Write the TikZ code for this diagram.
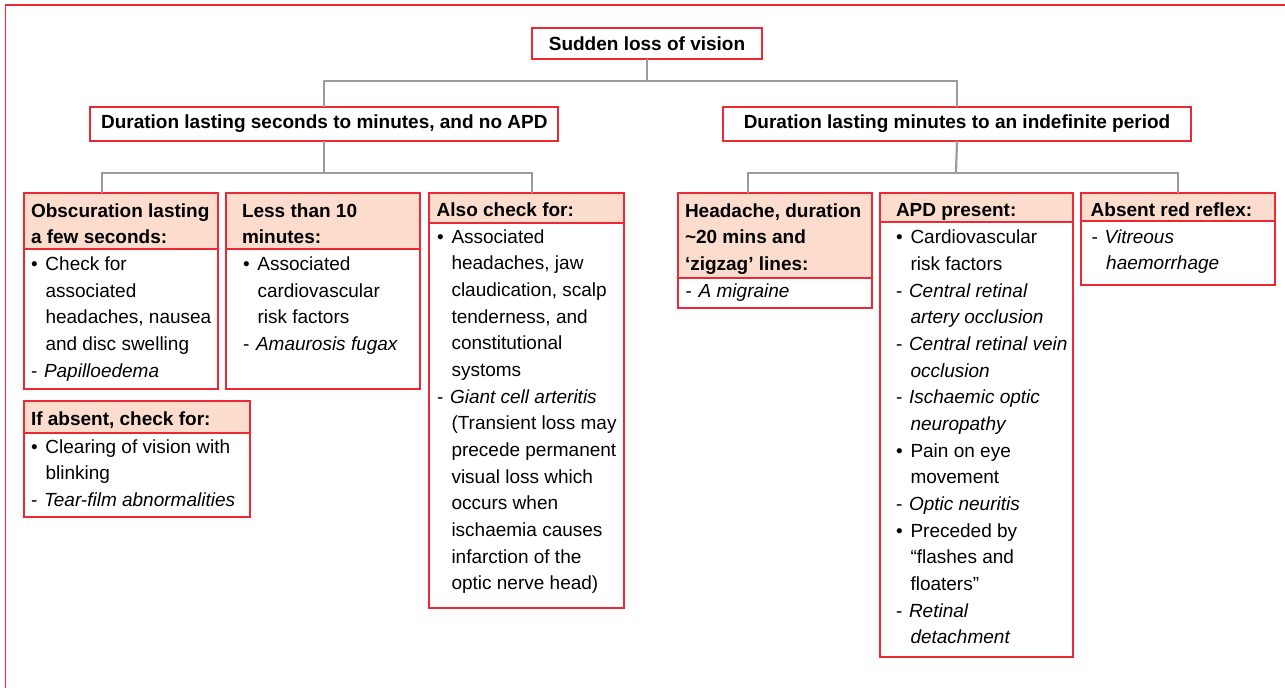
\documentclass[tikz,border=0pt]{standalone}
\usepackage{fontspec}
\setmainfont{Liberation Sans}
\definecolor{bred}{RGB}{236,40,52}
\definecolor{hfill}{RGB}{252,220,204}
\definecolor{cgray}{RGB}{155,155,155}
\newcommand\bul{\makebox[14.5pt][l]{•}}
\newcommand\dsh{\makebox[13pt][l]{-}}
\newcommand\ind{\hspace*{14.5pt}}
\begin{document}
\begin{tikzpicture}[x=1pt,y=-1pt,
  every node/.style={inner sep=0pt,outer sep=0pt},
  lvl/.style={draw=bred,line width=1.7pt,fill=white,rectangle,font=\fontsize{19}{26.65}\selectfont\bfseries},
  hdr/.style={draw=bred,line width=1.7pt,fill=hfill,rectangle,anchor=north west},
  bdy/.style={draw=bred,line width=1.7pt,fill=white,rectangle,anchor=north west},
  txt/.style={anchor=north west,align=left,font=\fontsize{19}{26.65}\selectfont},
  htxt/.style={anchor=north west,align=left,font=\fontsize{19}{26.65}\selectfont\bfseries},
  conn/.style={draw=cgray,line width=2.2pt},
  frame/.style={draw=bred,line width=1.6pt}]
\useasboundingbox (0,0) rectangle (1285,688);
\fill[white] (0,0) rectangle (1285,688);
% frame
\draw[frame] (1285,5) -- (5.5,5) -- (5.5,688);

% level 1 and 2
\node[lvl,minimum width=230.6pt,minimum height=30.4pt] (root) at (647,43.5) {Sudden loss of vision};
\node[lvl,minimum width=468pt,minimum height=34.3pt] (L) at (324.3,123.85) {Duration lasting seconds to minutes, and no APD};
\node[lvl,minimum width=468pt,minimum height=34.3pt] (R) at (957,123.85) {Duration lasting minutes to an indefinite period};

% box A
\node[bdy,minimum width=194pt,minimum height=140pt] (Ab) at (24.3,249.3) {};
\node[hdr,minimum width=194pt,minimum height=56pt] (Ah) at (24.3,193.3) {};
\node[htxt] (Aht) at (31,198.6) {\strut Obscuration lasting\\a few seconds:};
\node[txt] (Abt) at (31,252.0) {\strut\bul Check for\\
\ind associated\\
\ind headaches, nausea\\
\ind and disc swelling\\
\dsh\textit{Papilloedema}};

% box B
\node[bdy,minimum width=193.7pt,minimum height=140pt] (Bb) at (226.3,249.3) {};
\node[hdr,minimum width=193.7pt,minimum height=56pt] (Bh) at (226.3,193.3) {};
\node[htxt] (Bht) at (242,198.6) {\strut Less than 10\\minutes:};
\node[txt] (Bbt) at (243,252.0) {\strut\bul Associated\\
\ind cardiovascular\\
\ind risk factors\\
\dsh\textit{Amaurosis fugax}};

% box C
\node[bdy,minimum width=194.4pt,minimum height=384.4pt] (Cb) at (429.3,223.3) {};
\node[hdr,minimum width=194.4pt,minimum height=30pt] (Ch) at (429.3,193.3) {};
\node[htxt] (Cht) at (436.7,198.0) {\strut Also check for:};
\node[txt] (Cbt) at (437,224.6) {\strut\bul Associated\\
\ind headaches, jaw\\
\ind claudication, scalp\\
\ind tenderness, and\\
\ind constitutional\\
\ind systoms\\
\dsh\textit{Giant cell arteritis}\\
\ind (Transient loss may\\
\ind precede permanent\\
\ind visual loss which\\
\ind occurs when\\
\ind ischaemia causes\\
\ind infarction of the\\
\ind optic nerve head)};

% box D
\node[bdy,minimum width=225.7pt,minimum height=83.7pt] (Db) at (24.3,433.3) {};
\node[hdr,minimum width=225.7pt,minimum height=32.3pt] (Dh) at (24.3,401) {};
\node[htxt] (Dht) at (31,407.0) {\strut If absent, check for:};
\node[txt] (Dbt) at (31,434.6) {\strut\bul Clearing of vision with\\
\ind blinking\\
\dsh\textit{Tear-film abnormalities}};

% box E
\node[bdy,minimum width=194pt,minimum height=30pt] (Eb) at (677.7,278.3) {};
\node[hdr,minimum width=194pt,minimum height=85pt] (Eh) at (677.7,193.3) {};
\node[htxt] (Eht) at (685,198.6) {\strut Headache, duration\\\textasciitilde20 mins and\\‘zigzag’ lines:};
\node[txt] (Ebt) at (685.7,278.6) {\strut\dsh\textit{A migraine}};

% box F
\node[bdy,minimum width=193.3pt,minimum height=435pt] (Fb) at (880,221.7) {};
\node[hdr,minimum width=193.3pt,minimum height=28.4pt] (Fh) at (880,193.3) {};
\node[htxt] (Fht) at (896,198.0) {\strut APD present:};
\node[txt] (Fbt) at (896,225.3) {\strut\bul Cardiovascular\\
\ind risk factors\\
\dsh\textit{Central retinal}\\
\ind\textit{artery occlusion}\\
\dsh\textit{Central retinal vein}\\
\ind\textit{occlusion}\\
\dsh\textit{Ischaemic optic}\\
\ind\textit{neuropathy}\\
\bul Pain on eye\\
\ind movement\\
\dsh\textit{Optic neuritis}\\
\bul Preceded by\\
\ind “flashes and\\
\ind floaters”\\
\dsh\textit{Retinal}\\
\ind\textit{detachment}};

% box G
\node[bdy,minimum width=194.3pt,minimum height=64.3pt] (Gb) at (1080.7,220.7) {};
\node[hdr,minimum width=194.3pt,minimum height=27.4pt] (Gh) at (1080.7,193.3) {};
\node[htxt] (Ght) at (1090.7,198.0) {\strut Absent red reflex:};
\node[txt] (Gbt) at (1091.7,224.6) {\strut\dsh\textit{Vitreous}\\
\ind\textit{haemorrhage}};

% connectors
\coordinate (j1) at (647,81);
\coordinate (j2) at (324.3,172.7);
\coordinate (j3) at (956,172.7);
\coordinate (aTop) at ([xshift=77.7pt]Ah.north west);
\coordinate (cTop) at ([xshift=102.4pt]Ch.north west);
\coordinate (eTop) at ([xshift=70pt]Eh.north west);
\draw[conn] (root.south) -- (j1);
\draw[conn] (L.north) |- (j1) -| (R.north);
\draw[conn] (L.south) -- (j2);
\draw[conn] (aTop) |- (j2) -| (cTop);
\draw[conn] (R.south) -- (j3);
\draw[conn] (eTop) |- (j3) -| (Gh.north);
\end{tikzpicture}
\end{document}
